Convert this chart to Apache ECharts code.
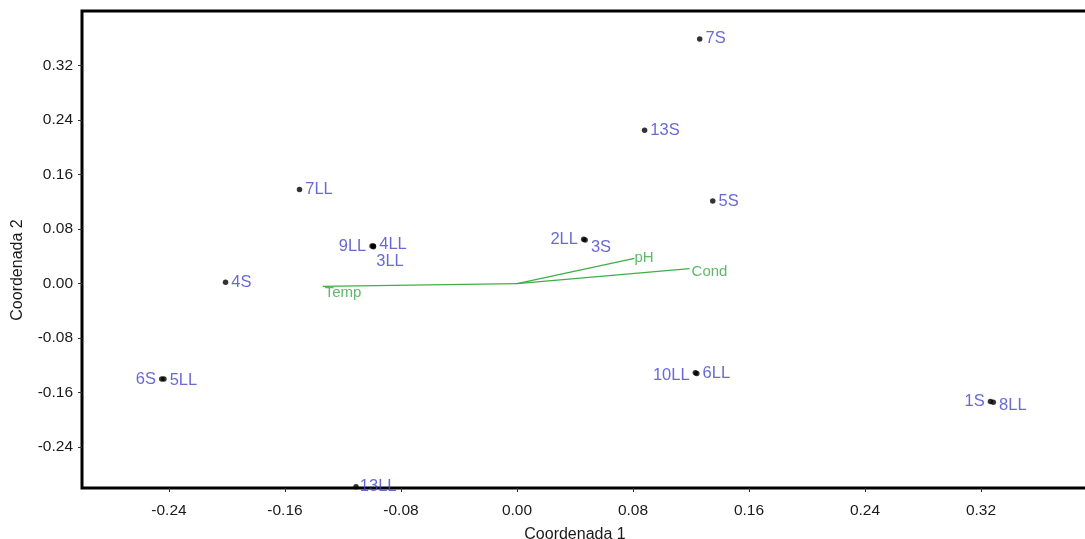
<!DOCTYPE html>
<html lang="es">
<head>
	<title>Coordenadas</title>
	<meta charset="UTF-8">
	<script src="https://cdn.jsdelivr.net/npm/echarts/dist/echarts.min.js"></script>
<style type="text/css">
	html,body{
		margin: 0;
		height: 100%;
		background-color: #FFFFFF;
	}
	#main{
		width: 1085px;
		height: 539px;
	}
</style>
</head>
<body>
	<div id="main"></div>
	<script>
		// sitios (puntos)
		var siteNames = ['7S','13S','5S','7LL','9LL','4LL','3LL','2LL','3S','4S','6S','5LL','10LL','6LL','1S','8LL','13LL'];
		var siteX = [0.126, 0.088, 0.135, -0.150, -0.100, -0.099, -0.099, 0.046, 0.047, -0.201, -0.245, -0.2435, 0.123, 0.124, 0.3265, 0.3285, -0.111];
		var siteY = [0.359, 0.225, 0.121, 0.138, 0.055, 0.055, 0.054, 0.065, 0.064, 0.002, -0.140, -0.140, -0.131, -0.132, -0.173, -0.174, -0.298];

		// vectores ambientales
		var vectorNames = ['Temp','pH','Cond'];
		var vectorX = [-0.134, 0.081, 0.119];
		var vectorY = [-0.004, 0.037, 0.022];

		// marcas de los ejes
		var tickValues = [-0.24, -0.16, -0.08, 0, 0.08, 0.16, 0.24, 0.32];

		// donde va cada etiqueta (solo estilo)
		var labelLeft = ['9LL','2LL','6S','10LL','1S'];
		var labelOffset = {
			'3LL': [-3, 15],
			'3S': [0, 7],
			'4LL': [0, -2],
			'10LL': [0, 3],
			'8LL': [0, 3],
			'5LL': [0, 1],
			'13LL': [-2, 0]
		};
		var vectorOffset = {
			'Temp': [0, 7],
			'pH': [-2, 0],
			'Cond': [0, 3]
		};

		var siteData = [];
		for (var i = 0; i < siteNames.length; i++) {
			var nm = siteNames[i];
			siteData.push({
				name: nm,
				value: [siteX[i], siteY[i]],
				label: {
					position: labelLeft.indexOf(nm) >= 0 ? 'left' : 'right',
					offset: labelOffset[nm] || [0, 0]
				}
			});
		}

		var vectorSeries = [];
		var vectorEnds = [];
		for (var j = 0; j < vectorNames.length; j++) {
			vectorSeries.push({
				type: 'line',
				data: [[0, 0], [vectorX[j], vectorY[j]]],
				showSymbol: false,
				symbol: 'none',
				silent: true,
				z: 1,
				lineStyle: {color: '#3fae47', width: 1.3}
			});
			vectorEnds.push({
				name: vectorNames[j],
				value: [vectorX[j], vectorY[j]],
				label: {offset: vectorOffset[vectorNames[j]] || [0, 0]}
			});
		}

		var font = "'Liberation Sans', Arial, sans-serif";

		function axisOf(name) {
			return {
				type: 'value',
				min: -0.3,
				max: 0.4,
				name: name,
				nameLocation: 'middle',
				nameTextStyle: {fontFamily: font, fontSize: 16, color: '#1a1a1a'},
				axisLine: {show: false, onZero: false},
				axisTick: {show: true, length: 4, customValues: tickValues, lineStyle: {color: '#333'}},
				splitLine: {show: false},
				axisLabel: {
					customValues: tickValues,
					fontFamily: font,
					fontSize: 15.5,
					color: '#1a1a1a',
					formatter: function (v) { return (Math.abs(v) < 1e-9 ? 0 : v).toFixed(2); }
				}
			};
		}

		var xAx = axisOf('Coordenada 1');
		xAx.nameGap = 39;
		xAx.nameTextStyle.padding = [0, 29, 0, 0];
		xAx.axisLabel.margin = 15;
		var yAx = axisOf('Coordenada 2');
		yAx.nameGap = 56;
		yAx.nameTextStyle.padding = [0, 41, 0, 0];
		yAx.axisLabel.margin = 9;

		var chart = echarts.init(document.getElementById('main'));
		chart.setOption({
			animation: false,
			grid: {
				left: 82,
				top: 11,
				width: 1015,
				bottom: 51,
				outerBoundsMode: 'none',
				containLabel: false,
				show: true,
				borderColor: '#000',
				borderWidth: 3
			},
			xAxis: xAx,
			yAxis: yAx,
			series: vectorSeries.concat([
				{
					type: 'scatter',
					data: vectorEnds,
					symbolSize: 0,
					silent: true,
					z: 2,
					label: {
						show: true,
						position: 'right',
						distance: 2,
						formatter: '{b}',
						fontFamily: font,
						fontSize: 15,
						color: '#36a843'
					}
				},
				{
					type: 'scatter',
					data: siteData,
					symbolSize: 5.5,
					itemStyle: {color: '#000'},
					z: 3,
					label: {
						show: true,
						distance: 3,
						formatter: '{b}',
						fontFamily: font,
						fontSize: 16.5,
						color: '#4343cc'
					}
				}
			])
		});
	</script>
</body>
</html>
